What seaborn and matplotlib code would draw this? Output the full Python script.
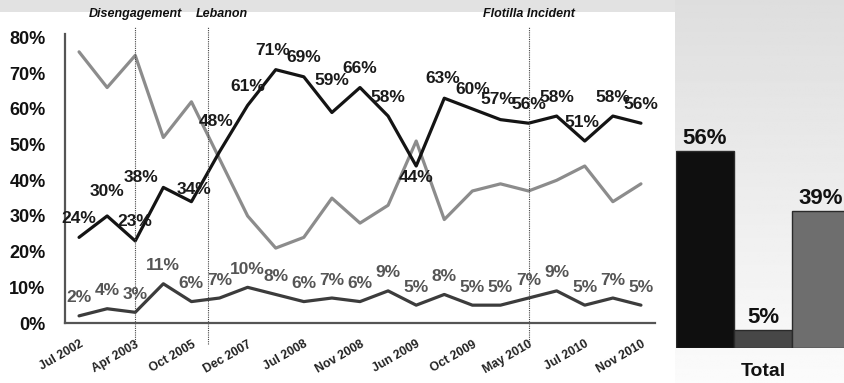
import numpy as np
import pandas as pd
import seaborn as sns
import matplotlib.pyplot as plt
from matplotlib.patches import Rectangle

# survey waves (every second wave is labelled on the axis)
tick_labels = ["Jul 2002", "Apr 2003", "Oct 2005", "Dec 2007", "Jul 2008", "Nov 2008",
               "Jun 2009", "Oct 2009", "May 2010", "Jul 2010", "Nov 2010"]
dark_vals = [24, 30, 23, 38, 34, 48, 61, 71, 69, 59, 66, 58, 44, 63, 60, 57, 56, 58, 51, 58, 56]
low_vals = [2, 4, 3, 11, 6, 7, 10, 8, 6, 7, 6, 9, 5, 8, 5, 5, 7, 9, 5, 7, 5]
grey_vals = [76, 66, 75, 52, 62, 46, 30, 21, 24, 35, 28, 33, 51, 29, 37, 39, 37, 40, 44, 34, 39]

event_names = ["Disengagement", "Lebanon", "Flotilla Incident"]
event_pos = [2, 4.58, 16]

total_vals = [56, 5, 39]
total_cats = ["dark", "low", "grey"]

sns.set_style("white")
plt.rcParams["font.family"] = ["Liberation Sans", "DejaVu Sans"]
plt.rcParams["font.weight"] = "bold"

colors = {"dark": "#141414", "low": "#3c3c3c", "grey": "#8c8c8c"}

n = len(dark_vals)
waves = np.arange(n)
df = pd.concat([
    pd.DataFrame({"wave": waves, "pct": grey_vals, "series": "grey"}),
    pd.DataFrame({"wave": waves, "pct": low_vals, "series": "low"}),
    pd.DataFrame({"wave": waves, "pct": dark_vals, "series": "dark"}),
])

fig = plt.figure(figsize=(8.44, 3.83), dpi=100)
fig.patch.set_facecolor("white")

# background: grey strip on top, gradient panel on the right
fig.patches.append(Rectangle((0, 1 - 12 / 383), 675 / 844, 12 / 383, transform=fig.transFigure,
                             facecolor="#e2e2e2", edgecolor="none", zorder=0))
bg = fig.add_axes([675 / 844, 0, 169 / 844, 1], zorder=0)
bg.imshow(np.linspace(0.87, 0.985, 200)[:, None], cmap="gray", vmin=0, vmax=1, aspect="auto")
bg.axis("off")

ax = fig.add_axes([65 / 844, 60 / 383, 590 / 844, 289 / 383], zorder=2)
ax.patch.set_alpha(0)
sns.lineplot(data=df, x="wave", y="pct", hue="series", palette=colors,
             hue_order=["grey", "low", "dark"], linewidth=2.3, legend=False, ax=ax)
ax.set_xlim(-0.5, n - 0.5)
ax.set_ylim(0, 81)
ax.set_xlabel(""); ax.set_ylabel("")
ax.set_yticks(range(0, 81, 10))
ax.set_yticklabels([f"{v}%" for v in range(0, 81, 10)], fontsize=13, fontweight="bold", color="#111")
ax.set_xticks(waves[::2])
ax.set_xticklabels(tick_labels, rotation=30, ha="right", va="top", rotation_mode="anchor",
                   fontsize=8.8, fontweight="bold", color="#222")
ax.tick_params(axis="y", length=0, pad=14)
ax.tick_params(axis="x", length=0, pad=11)
for s in ["top", "right"]:
    ax.spines[s].set_visible(False)
for s in ["left", "bottom"]:
    ax.spines[s].set_color("#555")
    ax.spines[s].set_linewidth(1.6)

# event markers
for name, pos in zip(event_names, event_pos):
    ax.vlines(pos, -6, 83, colors="#444", linestyles=(0, (1, 1)), linewidth=0.8, clip_on=False)
tx = {"Disengagement": 2.0, "Lebanon": 5.1, "Flotilla Incident": 16.0}
for name in event_names:
    ax.text(tx[name], 86.5, name, ha="center", va="center", fontsize=9,
            fontweight="bold", style="italic", color="#111", clip_on=False)

# data labels (offsets in px, up is positive)
dark_nudge = {1: (0, 24), 3: (-22, 10), 4: (3, 12), 5: (-3, 30), 7: (-3, 19), 9: (0, 32),
              12: (0, -11), 13: (-2, 20), 15: (-3, 20), 18: (-3, 19)}
for i, v in enumerate(dark_vals):
    dx, dy = dark_nudge.get(i, (0, 19))
    ax.annotate(f"{v}%", (i, v), xytext=(dx * 0.72, dy * 0.72), textcoords="offset points",
                ha="center", va="center", fontsize=12.5, fontweight="bold", color="#1a1a1a", zorder=5)
for i, v in enumerate(low_vals):
    ax.annotate(f"{v}%", (i, v), xytext=(0, 18 * 0.72), textcoords="offset points",
                ha="center", va="center", fontsize=12.5, fontweight="bold", color="#555", zorder=5)

# total bars on the right
bx = fig.add_axes([676 / 844, 35 / 383, 174 / 844, 281.6 / 383], zorder=2)
bx.patch.set_alpha(0)
tot = pd.DataFrame({"cat": total_cats, "pct": total_vals})
sns.barplot(data=tot, x="cat", y="pct", hue="cat",
            palette={"dark": "#0f0f0f", "low": "#474747", "grey": "#6e6e6e"},
            width=1.0, edgecolor="#2a2a2a", linewidth=1, legend=False, ax=bx)
bx.set_xlim(-0.5, 2.5)
bx.set_ylim(0, 80)
bx.set_xlabel(""); bx.set_ylabel("")
bx.set_yticks([])
bx.set_xticks([1])
bx.set_xticklabels(["Total"], fontsize=14, fontweight="bold", color="#111")
bx.tick_params(axis="x", length=0, pad=11)
for s in bx.spines.values():
    s.set_visible(False)
for i, v in enumerate(total_vals):
    bx.annotate(f"{v}%", (i, v), xytext=(0, 9), textcoords="offset points",
                ha="center", va="center", fontsize=16, fontweight="bold", color="#111")

fig.savefig("out.png", dpi=100)
